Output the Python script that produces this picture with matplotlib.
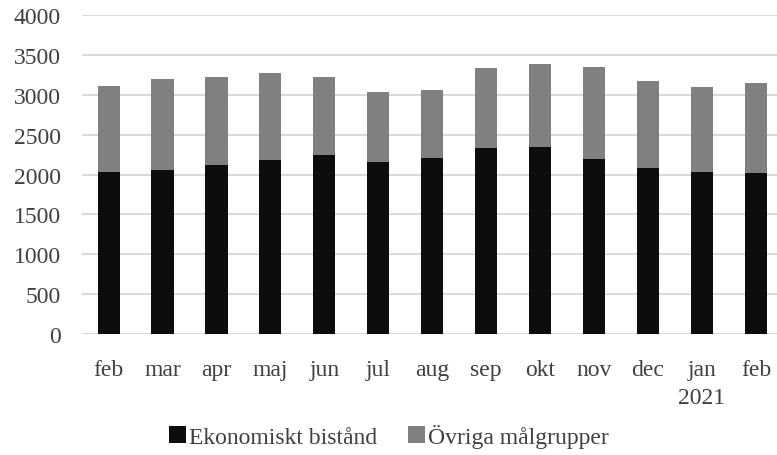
import numpy as np
import matplotlib.pyplot as plt

months = ["feb", "mar", "apr", "maj", "jun", "jul", "aug", "sep", "okt", "nov", "dec", "jan\n2021", "feb"]
ekonomiskt = np.array([2037, 2062, 2125, 2187, 2250, 2162, 2212, 2337, 2350, 2200, 2087, 2037, 2025])
totalt = np.array([3112, 3200, 3225, 3275, 3225, 3037, 3062, 3337, 3387, 3350, 3175, 3100, 3150])
ovriga = totalt - ekonomiskt

plt.rcParams['font.family'] = ['Liberation Serif', 'DejaVu Serif']
txt = '#404040'

fig = plt.figure(figsize=(7.77, 4.56), dpi=100)
ax = fig.add_axes([0.105, 0.265, 0.895, 0.700])

x = np.arange(len(months))
ax.bar(x, ekonomiskt, width=0.41, color='#0d0d0d', label='Ekonomiskt bistånd', zorder=3)
ax.bar(x, ovriga, width=0.41, bottom=ekonomiskt, color='#808080', label='Övriga målgrupper', zorder=3)

ax.set_ylim(0, 4000)
ax.set_xlim(-0.5, 12.39)
ax.set_yticks(np.arange(0, 4001, 500))
ax.set_xticks(x)
ax.set_xticklabels(months, fontsize=17, color=txt, linespacing=1.45)
ax.tick_params(axis='y', labelsize=17, labelcolor=txt, length=0, pad=15)
ax.tick_params(axis='x', length=0, pad=18)
ax.grid(axis='y', color='#d9d9d9', linewidth=1.5, zorder=0)
for s in ax.spines.values():
    s.set_visible(False)

leg = fig.legend(loc='center', bbox_to_anchor=(0.5, 0.042), ncol=2, frameon=False,
                 fontsize=17, handlelength=0.75, handleheight=0.75, handletextpad=0.1,
                 columnspacing=1.3, borderpad=0)
for t in leg.get_texts():
    t.set_color(txt)

fig.savefig('out.png', dpi=100)
